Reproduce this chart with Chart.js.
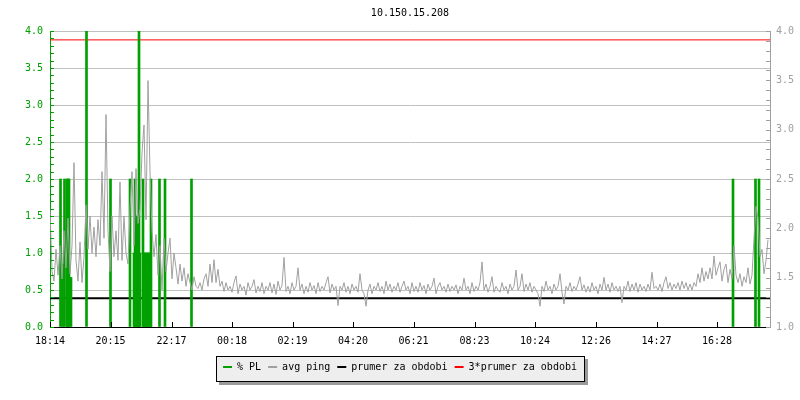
<!DOCTYPE html>
<html><head><meta charset="utf-8">
<script src="https://cdn.jsdelivr.net/npm/chart.js@4/dist/chart.umd.min.js"></script>
<style>html,body{margin:0;padding:0;background:#fff}</style>
</head><body>
<canvas id="c" width="800" height="400"></canvas>
<script>
// ---- data ----
const chartTitle = '10.150.15.208';
const timeLabels = ['18:14','20:15','22:17','00:18','02:19','04:20','06:21','08:23','10:24','12:26','14:27','16:28'];
const timeTicks = [0,121,243,364,485,606,727,849,970,1092,1213,1334]; // minutes since 18:14
const timeSpan = 1440;
const pingStep = 4; // minutes between avg ping samples
const pingValues = [
 1.6,0.75,0.62,1.05,0.7,1.1,0.65,1.3,0.8,1.47,0.72,1.1,2.22,0.9,0.62,
 1.15,0.6,0.95,1.65,1.05,1.5,1.0,1.35,0.95,1.45,1.1,2.1,1.2,2.87,1.3,
 0.75,1.5,0.95,1.3,0.9,1.96,0.9,1.5,1.0,0.85,1.6,2.1,1.1,2.14,1.4,
 1.6,2.36,2.73,1.45,3.33,2.1,1.3,0.95,1.25,0.7,1.1,0.5,1.2,0.75,1.0,
 1.2,0.65,1.0,0.8,0.58,0.85,0.62,0.8,0.55,0.72,0.6,0.5,0.68,0.55,0.52,
 0.6,0.5,0.65,0.72,0.55,0.85,0.6,0.91,0.6,0.78,0.55,0.62,0.48,0.6,0.5,
 0.55,0.47,0.6,0.69,0.45,0.58,0.5,0.55,0.43,0.6,0.5,0.55,0.64,0.46,0.55,
 0.48,0.6,0.45,0.55,0.5,0.6,0.46,0.58,0.44,0.62,0.5,0.56,0.94,0.48,0.55,
 0.45,0.6,0.5,0.55,0.8,0.5,0.58,0.45,0.55,0.47,0.6,0.5,0.56,0.45,0.6,
 0.48,0.55,0.5,0.6,0.68,0.46,0.58,0.5,0.55,0.29,0.55,0.5,0.6,0.47,0.55,
 0.45,0.58,0.5,0.55,0.47,0.72,0.5,0.45,0.28,0.5,0.58,0.45,0.55,0.5,0.6,
 0.48,0.55,0.45,0.62,0.5,0.58,0.47,0.55,0.5,0.6,0.47,0.55,0.62,0.5,0.55,
 0.45,0.6,0.48,0.55,0.47,0.6,0.5,0.56,0.45,0.58,0.5,0.55,0.66,0.45,0.55,
 0.6,0.5,0.55,0.47,0.58,0.48,0.55,0.5,0.57,0.45,0.55,0.5,0.66,0.5,0.55,
 0.45,0.6,0.48,0.55,0.5,0.6,0.88,0.5,0.58,0.47,0.55,0.68,0.47,0.55,0.5,
 0.47,0.6,0.5,0.55,0.45,0.58,0.5,0.55,0.77,0.5,0.55,0.72,0.48,0.58,0.5,
 0.6,0.47,0.55,0.5,0.45,0.28,0.55,0.48,0.62,0.5,0.55,0.45,0.58,0.5,0.55,
 0.72,0.47,0.31,0.55,0.5,0.6,0.48,0.55,0.5,0.58,0.68,0.5,0.57,0.47,0.55,
 0.47,0.6,0.5,0.55,0.45,0.58,0.5,0.67,0.5,0.58,0.47,0.6,0.5,0.55,0.48,
 0.55,0.33,0.55,0.5,0.62,0.48,0.58,0.5,0.6,0.47,0.58,0.5,0.55,0.48,0.58,
 0.5,0.74,0.52,0.55,0.5,0.58,0.48,0.6,0.68,0.52,0.6,0.5,0.58,0.52,0.6,
 0.5,0.62,0.52,0.6,0.5,0.58,0.5,0.6,0.55,0.72,0.6,0.8,0.62,0.75,0.65,
 0.8,0.65,0.96,0.7,0.8,0.88,0.62,0.78,0.85,0.6,0.78,0.65,1.1,0.7,0.6,
 0.72,0.55,0.68,0.6,0.8,0.58,0.7,1.2,1.63,1.47,0.95,1.05,0.72,0.9,1.18
];
const plTimes = [21,25,29,34,36,38,42,73,121,160,168,170,172,174,176,178,180,186,188,190,192,194,196,198,200,202,219,230,283,1366,1411,1418];
const plValues = [2,0.85,2,2,2,2,0.67,4,2,2,1,2,1,1.5,1,4,1,2,1,1,1,1,1,1,1,2,2,2,2,2,2,2];
const avgValue = 0.39;
const tripleAvgValue = 3.88;
const seriesNames = ['% PL','avg ping','prumer za obdobi','3*prumer za obdobi'];

// ---- style ----
const FONT = {family: "'DejaVu Sans Mono', monospace", size: 10, weight: 'normal'};
const GREEN = '#00a000', GRAY = '#a0a0a0', GRID = '#c0c0c0', BLACK = '#000000', RED = '#ff0000';
const seriesColors = [GREEN, GRAY, BLACK, RED];

const pingData = pingValues.map((v, i) => ({x: i * pingStep, y: v}));
const plData = plTimes.map((t, i) => ({x: t, y: plValues[i]}));
const hLine = v => [{x: 0, y: v}, {x: timeSpan, y: v}];

const legendBox = {
  id: 'legendBox',
  beforeDraw(chart) {
    const lg = chart.legend;
    if (!lg || !lg.legendHitBoxes || !lg.legendHitBoxes.length) return;
    const hb = lg.legendHitBoxes;
    const l = Math.round(hb[0].left - 7), r = Math.round(hb[hb.length-1].left + hb[hb.length-1].width + 8);
    const t = Math.round(lg.top + 1), b = Math.round(lg.bottom);
    const ctx = chart.ctx;
    ctx.save();
    ctx.fillStyle = '#9a9a9a';
    ctx.fillRect(l + 3, t + 3, r - l, b - t);
    ctx.fillStyle = '#eeeeee';
    ctx.fillRect(l, t, r - l, b - t);
    ctx.strokeStyle = BLACK; ctx.lineWidth = 1;
    ctx.strokeRect(l + 0.5, t + 0.5, r - l - 1, b - t - 1);
    ctx.restore();
  }
};

const axisTicks = {
  id: 'axisTicks',
  afterDraw(chart) {
    const {ctx, chartArea: a, scales: {x, y, y2}} = chart;
    ctx.save(); ctx.lineWidth = 1;
    ctx.strokeStyle = GREEN; ctx.beginPath();
    for (let k = 0; k <= 40; k++) { const py = Math.round(y.getPixelForValue(k / 10)) + 0.5; ctx.moveTo(a.left, py); ctx.lineTo(a.left + 4, py); }
    ctx.stroke();
    ctx.strokeStyle = GRAY; ctx.beginPath();
    for (let k = 10; k <= 40; k++) { const py = Math.round(y2.getPixelForValue(k / 10)) + 0.5; ctx.moveTo(a.right - 4, py); ctx.lineTo(a.right, py); }
    ctx.stroke();
    ctx.strokeStyle = BLACK; ctx.beginPath();
    timeTicks.forEach(t => { const px = Math.round(x.getPixelForValue(t)) + 0.5; ctx.moveTo(px, a.bottom); ctx.lineTo(px, a.bottom - 5); });
    ctx.stroke();
    ctx.restore();
  }
};

new Chart(document.getElementById('c'), {
  type: 'line',
  data: {
    datasets: [
      {type: 'bar', label: seriesNames[0], data: plData, backgroundColor: GREEN, borderWidth: 0, barThickness: 2, order: 1, yAxisID: 'y'},
      {type: 'line', label: seriesNames[1], data: pingData, borderColor: GRAY, borderWidth: 1, pointRadius: 0, tension: 0, order: 0, yAxisID: 'y'},
      {type: 'line', label: seriesNames[2], data: hLine(avgValue), borderColor: BLACK, borderWidth: 2, pointRadius: 0, order: 2, yAxisID: 'y'},
      {type: 'line', label: seriesNames[3], data: hLine(tripleAvgValue), borderColor: RED, borderWidth: 1, pointRadius: 0, order: 3, yAxisID: 'y'}
    ]
  },
  options: {
    responsive: false, animation: false,
    layout: {padding: {left: 0, right: 0, top: 0, bottom: 18}},
    plugins: {
      title: {display: true, text: chartTitle, font: FONT, color: BLACK, fullSize: false, padding: {top: 7, bottom: 12}},
      legend: {
        position: 'bottom',
        labels: {
          font: FONT, color: BLACK, usePointStyle: true, pointStyle: 'line', pointStyleWidth: 9, padding: 7,
          generateLabels: chart => chart.data.datasets.map((ds, i) => ({
            text: ds.label, fillStyle: seriesColors[i], strokeStyle: seriesColors[i], lineWidth: 2,
            pointStyle: 'line', datasetIndex: i, hidden: false, fontColor: BLACK
          }))
        }
      },
      tooltip: {enabled: false}
    },
    scales: {
      x: {
        type: 'linear', min: 0, max: timeSpan, offset: false,
        afterBuildTicks: s => { s.ticks = timeTicks.map(v => ({value: v})); },
        ticks: {callback: (v, i) => timeLabels[i], font: FONT, color: BLACK, maxRotation: 0, autoSkip: false, padding: 8},
        grid: {display: true, drawOnChartArea: false, drawTicks: false, offset: false},
        border: {display: true, color: BLACK, width: 1},
        afterFit: s => { s.height = 28; }
      },
      y: {
        position: 'left', min: 0, max: 4,
        ticks: {stepSize: 0.5, callback: v => v.toFixed(1), font: FONT, color: GREEN, padding: 7},
        grid: {color: c => (c.tick && c.tick.value === 0) ? 'rgba(0,0,0,0)' : GRID, drawTicks: false},
        border: {display: true, color: GREEN},
        afterFit: s => { s.width = 50; }
      },
      y2: {
        position: 'right', min: 1, max: 4,
        ticks: {stepSize: 0.5, callback: v => v.toFixed(1), font: FONT, color: GRAY, padding: 6},
        grid: {drawOnChartArea: false, drawTicks: false},
        border: {display: true, color: GRAY},
        afterFit: s => { s.width = 30; }
      }
    }
  },
  plugins: [legendBox, axisTicks]
});
</script>
</body></html>
